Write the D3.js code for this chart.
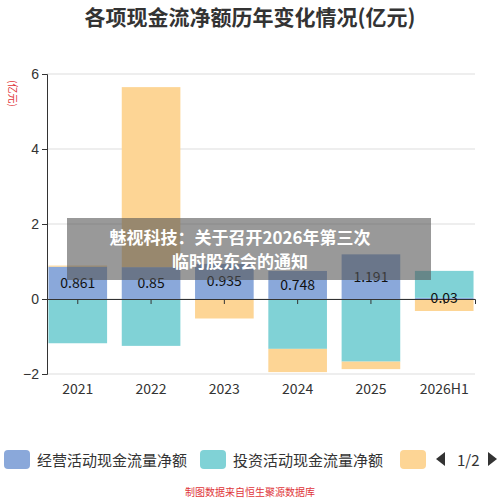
<!DOCTYPE html>
<html><head><meta charset="utf-8">
<script src="https://cdn.jsdelivr.net/npm/d3@7"></script>
<style>body{margin:0;background:#fff;font-family:"Noto Sans CJK SC","Open Sans",sans-serif}</style>
</head><body><svg id="c" width="500" height="500"></svg>
<script>
const years = ["2021", "2022", "2023", "2024", "2025", "2026H1"];
const operating = [0.861, 0.85, 0.935, 0.748, 1.191, 0.03];
const investing = [-1.18, -1.25, -0.02, -1.33, -1.67, 0.72];
const financing = [0.03, 4.8, -0.5, -0.62, -0.2, -0.32];
const yTicks = [-2, 0, 2, 4, 6];
const colors = ["#8aa8da", "#80d2d6", "#fdd595"];

const svg = d3.select("#c");
const margin = {left: 47, right: 475, top: 74, bottom: 374};
const x = d3.scaleBand().domain(years).range([margin.left, margin.right]).paddingInner(0.2).paddingOuter(0.02);
const y = d3.scaleLinear().domain([-2, 6]).range([margin.bottom, margin.top]);

svg.append("text").attr("x", 250).attr("y", 25).attr("text-anchor", "middle")
    .attr("font-size", 21).attr("font-weight", "bold").attr("fill", "#333")
    .text("各项现金流净额历年变化情况(亿元)");
svg.append("text").attr("transform", "translate(9,80) rotate(90)")
    .attr("font-size", 10).attr("fill", "#e0353a").text("(亿元)");

// grid
svg.selectAll(".grid").data(yTicks).join("line")
    .attr("x1", margin.left).attr("x2", margin.right)
    .attr("y1", d => y(d)).attr("y2", d => y(d)).attr("stroke", "#ddd");

// stack: positives up, negatives down
const series = [operating, investing, financing];
const pos = years.map(() => 0), neg = years.map(() => 0);
series.forEach((s, k) => {
    s.forEach((v, i) => {
        const base = v >= 0 ? pos[i] : neg[i];
        const top = base + v;
        if (v >= 0) pos[i] = top; else neg[i] = top;
        svg.append("rect").attr("x", x(years[i])).attr("width", x.bandwidth())
            .attr("y", y(Math.max(base, top))).attr("height", Math.abs(y(base) - y(top)))
            .attr("fill", colors[k]);
    });
});

// axes
const yAxis = svg.append("g").attr("transform", `translate(${margin.left},0)`)
    .call(d3.axisLeft(y).tickValues(yTicks).tickSize(5));
yAxis.selectAll("text").attr("font-size", 14).attr("fill", "#333");
yAxis.selectAll("line,path").attr("stroke", "#333");
const xAxis = svg.append("g").attr("transform", `translate(0,${y(0)})`)
    .call(d3.axisBottom(x).tickSize(5).tickFormat(""));
xAxis.selectAll("line,path").attr("stroke", "#333");
svg.selectAll(".xl").data(years).join("text")
    .attr("x", d => x(d) + x.bandwidth() / 2).attr("y", 394).attr("text-anchor", "middle")
    .attr("font-size", 14).attr("fill", "#333").text(d => d);

// labels
svg.selectAll(".lab").data(operating).join("text")
    .attr("x", (d, i) => x(years[i]) + x.bandwidth() / 2).attr("y", d => y(d / 2) + 5)
    .attr("text-anchor", "middle").attr("font-size", 14).attr("fill", "#111")
    .text(d => d3.format(".3~f")(d));

// overlay banner
svg.append("rect").attr("x", 67).attr("y", 218).attr("width", 364).attr("height", 62)
    .attr("fill", "#555").attr("opacity", 0.6);
svg.append("text").attr("x", 240).attr("y", 244).attr("text-anchor", "middle")
    .attr("font-size", 17).attr("font-weight", "bold").attr("fill", "#fff")
    .text("魅视科技：关于召开2026年第三次");
svg.append("text").attr("x", 240).attr("y", 268).attr("text-anchor", "middle")
    .attr("font-size", 17).attr("font-weight", "bold").attr("fill", "#fff")
    .text("临时股东会的通知");

// legend
const legendNames = ["经营活动现金流量净额", "投资活动现金流量净额"];
const lx = [4, 200];
legendNames.forEach((n, i) => {
    svg.append("rect").attr("x", lx[i]).attr("y", 450).attr("width", 26).attr("height", 19)
        .attr("rx", 4).attr("fill", colors[i]);
    svg.append("text").attr("x", lx[i] + 33).attr("y", 466).attr("font-size", 15)
        .attr("fill", "#333").text(n);
});
svg.append("rect").attr("x", 400).attr("y", 450).attr("width", 26).attr("height", 19)
    .attr("rx", 4).attr("fill", colors[2]);
svg.append("path").attr("d", "M436,459 l9,-7 v14 z").attr("fill", "#333");
svg.append("text").attr("x", 457).attr("y", 466).attr("font-size", 15).attr("fill", "#333").text("1/2");
svg.append("path").attr("d", "M497,459 l-9,-7 v14 z").attr("fill", "#333");

svg.append("text").attr("x", 250).attr("y", 496).attr("text-anchor", "middle")
    .attr("font-size", 10).attr("fill", "#e0353a").text("制图数据来自恒生聚源数据库");
</script></body></html>
